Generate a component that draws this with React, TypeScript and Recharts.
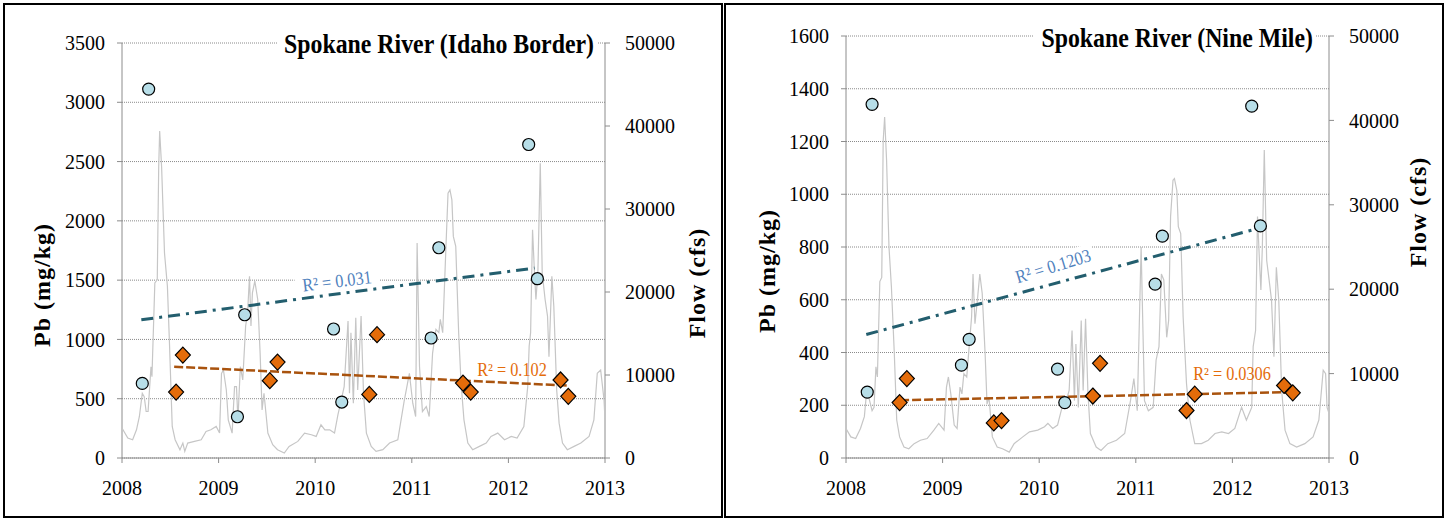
import React from "react";
import { ComposedChart, Scatter, XAxis, YAxis, CartesianGrid } from "recharts";

// ---- data ----
const yearTicks = [2008, 2009, 2010, 2011, 2012, 2013];
const flowTicks = [0, 10000, 20000, 30000, 40000, 50000];
const idahoPbTicks = [0, 500, 1000, 1500, 2000, 2500, 3000, 3500];
const nineMilePbTicks = [0, 200, 400, 600, 800, 1000, 1200, 1400, 1600];

// [decimal year, Pb mg/kg]
const idahoCircles = [
  [2008.21, 629], [2008.276, 3111], [2009.195, 348], [2009.27, 1208], [2010.19, 1088],
  [2010.275, 472], [2011.2, 1012], [2011.28, 1773], [2012.21, 2644], [2012.3, 1512],
];
const idahoDiamonds = [
  [2008.56, 556], [2008.63, 868], [2009.53, 652], [2009.61, 809], [2010.56, 536],
  [2010.64, 1040], [2011.53, 632], [2011.61, 556], [2012.54, 658], [2012.62, 520],
];
const idahoCircleTrend = [[2008.2, 1166], [2012.27, 1602]];
const idahoDiamondTrend = [[2008.54, 770], [2012.63, 610]];

const nineMileCircles = [
  [2008.22, 250], [2008.27, 1341], [2009.195, 352], [2009.275, 450], [2010.19, 337],
  [2010.265, 210], [2011.2, 659], [2011.275, 841], [2012.2, 1334], [2012.29, 880],
];
const nineMileDiamonds = [
  [2008.555, 210], [2008.63, 301], [2009.53, 133], [2009.61, 142], [2010.555, 235],
  [2010.63, 359], [2011.525, 180], [2011.61, 242], [2012.535, 275], [2012.625, 247],
];
const nineMileCircleTrend = [[2008.21, 468], [2012.23, 867]];
const nineMileDiamondTrend = [[2008.56, 219], [2012.64, 250]];

// [decimal year, flow cfs]
const idahoFlow = [
  [2008.0, 3600], [2008.06, 2400], [2008.11, 2200], [2008.15, 3400], [2008.18, 5000],
  [2008.21, 7800], [2008.23, 7400], [2008.25, 5600], [2008.27, 5600], [2008.3, 11000],
  [2008.31, 9800], [2008.34, 21100], [2008.365, 21500], [2008.38, 35100], [2008.39, 39400],
  [2008.41, 35100], [2008.44, 24700], [2008.47, 20700], [2008.49, 14300], [2008.52, 3800],
  [2008.55, 2200], [2008.6, 1000], [2008.63, 1800], [2008.65, 800], [2008.68, 1800],
  [2008.75, 2000], [2008.82, 2200], [2008.87, 3200], [2008.92, 3400], [2008.975, 3800],
  [2009.01, 3000], [2009.03, 10200], [2009.05, 10600], [2009.08, 8200], [2009.1, 4600],
  [2009.14, 3000], [2009.165, 8600], [2009.185, 8600], [2009.2, 4600], [2009.225, 11000],
  [2009.25, 9400], [2009.28, 15900], [2009.3, 17500], [2009.32, 21900], [2009.335, 15900],
  [2009.35, 19900], [2009.375, 21300], [2009.405, 19100], [2009.43, 12600], [2009.45, 5800],
  [2009.47, 7800], [2009.51, 3000], [2009.56, 1600], [2009.61, 1000], [2009.68, 600],
  [2009.73, 1400], [2009.82, 2000], [2009.89, 3000], [2009.96, 2800], [2010.01, 2600],
  [2010.06, 4000], [2010.1, 3400], [2010.15, 3400], [2010.2, 3000], [2010.235, 5200],
  [2010.27, 7000], [2010.3, 8600], [2010.34, 16500], [2010.355, 7800], [2010.37, 15100],
  [2010.395, 6600], [2010.42, 16900], [2010.44, 8200], [2010.475, 17100], [2010.5, 7800],
  [2010.53, 3000], [2010.58, 1400], [2010.63, 800], [2010.7, 1000], [2010.77, 1800],
  [2010.855, 2200], [2010.92, 6800], [2010.975, 10200], [2011.01, 6600], [2011.04, 5000],
  [2011.055, 25900], [2011.08, 11000], [2011.11, 5600], [2011.15, 6200], [2011.18, 5000],
  [2011.215, 12600], [2011.25, 15500], [2011.28, 15100], [2011.295, 16700], [2011.32, 15100],
  [2011.355, 25900], [2011.375, 31900], [2011.395, 32300], [2011.415, 31100], [2011.43, 26700],
  [2011.455, 25500], [2011.485, 15100], [2011.51, 9000], [2011.54, 4600], [2011.58, 1800],
  [2011.63, 1000], [2011.7, 1400], [2011.77, 1800], [2011.82, 2600], [2011.89, 3000],
  [2011.96, 2200], [2012.03, 2600], [2012.09, 2400], [2012.16, 3800], [2012.2, 8600],
  [2012.215, 13500], [2012.23, 15100], [2012.25, 27500], [2012.27, 22300], [2012.285, 19100],
  [2012.305, 22300], [2012.33, 35500], [2012.35, 22300], [2012.38, 19100], [2012.405, 17100],
  [2012.42, 12200], [2012.45, 21900], [2012.47, 18300], [2012.5, 8200], [2012.525, 4200],
  [2012.56, 1800], [2012.61, 1000], [2012.68, 1400], [2012.75, 1800], [2012.835, 2600],
  [2012.885, 4600], [2012.92, 10200], [2012.955, 10600], [2012.99, 7000], [2013.0, 4600],
];
const nineMileFlow = [
  [2008.0, 3500], [2008.05, 2500], [2008.1, 2300], [2008.15, 3500], [2008.19, 4900],
  [2008.21, 7400], [2008.24, 7000], [2008.27, 5600], [2008.29, 6000], [2008.31, 10800],
  [2008.325, 9600], [2008.35, 20900], [2008.37, 21400], [2008.385, 37600], [2008.4, 40400],
  [2008.42, 35300], [2008.445, 25000], [2008.47, 20300], [2008.5, 12400], [2008.525, 4500],
  [2008.555, 2500], [2008.6, 1300], [2008.65, 1100], [2008.705, 1700], [2008.77, 2100],
  [2008.84, 2300], [2008.91, 3300], [2008.96, 4100], [2009.015, 3300], [2009.04, 8400],
  [2009.06, 9600], [2009.085, 7600], [2009.12, 3900], [2009.15, 3500], [2009.18, 8400],
  [2009.2, 7600], [2009.22, 10000], [2009.25, 9600], [2009.275, 13200], [2009.3, 16700],
  [2009.315, 21800], [2009.335, 15900], [2009.36, 18700], [2009.385, 21800], [2009.41, 19500],
  [2009.44, 12400], [2009.46, 6400], [2009.48, 7200], [2009.515, 2500], [2009.565, 1300],
  [2009.62, 1100], [2009.69, 700], [2009.74, 1700], [2009.83, 2500], [2009.9, 3100],
  [2009.985, 3300], [2010.055, 3700], [2010.09, 4100], [2010.14, 3500], [2010.19, 3900],
  [2010.245, 6400], [2010.28, 6800], [2010.31, 8000], [2010.34, 15100], [2010.365, 6800],
  [2010.38, 13500], [2010.405, 6000], [2010.435, 16300], [2010.455, 8000], [2010.48, 16500],
  [2010.505, 7600], [2010.53, 2900], [2010.59, 1300], [2010.64, 900], [2010.71, 1700],
  [2010.8, 2100], [2010.885, 2900], [2010.945, 6800], [2010.98, 9400], [2011.015, 5600],
  [2011.055, 25000], [2011.09, 6800], [2011.13, 5600], [2011.18, 6000], [2011.21, 11600],
  [2011.24, 13200], [2011.265, 21800], [2011.29, 21100], [2011.32, 14300], [2011.34, 16300],
  [2011.36, 28600], [2011.385, 32900], [2011.4, 33100], [2011.425, 31700], [2011.44, 27400],
  [2011.465, 26600], [2011.49, 16700], [2011.525, 8800], [2011.56, 4500], [2011.61, 1700],
  [2011.68, 1700], [2011.75, 2100], [2011.82, 2900], [2011.89, 3100], [2011.96, 2900],
  [2012.025, 3500], [2012.095, 6000], [2012.145, 4500], [2012.2, 6000], [2012.215, 13200],
  [2012.24, 15100], [2012.26, 28600], [2012.28, 23400], [2012.295, 19900], [2012.31, 25000],
  [2012.33, 36500], [2012.355, 23400], [2012.38, 21100], [2012.405, 18700], [2012.43, 12000],
  [2012.455, 22600], [2012.48, 18700], [2012.51, 8000], [2012.545, 3300], [2012.595, 1700],
  [2012.665, 1300], [2012.75, 1700], [2012.835, 2500], [2012.895, 4500], [2012.94, 10400],
  [2012.965, 10000], [2012.98, 6000], [2013.0, 5300],
];

const toPts = (arr: number[][]) => arr.map(([t, v]) => ({ t, v }));

const SERIF = "'Liberation Serif', 'Times New Roman', serif";
const AXIS_GRAY = "#8c8c8c";

const CircleDot = (props: any) => (
  <circle cx={props.cx} cy={props.cy} r={6} fill="#b7dee8" stroke="#000" strokeWidth={1.2} />
);
const DiamondDot = (props: any) => {
  const { cx, cy } = props;
  return (
    <path
      d={`M${cx},${cy - 8}L${cx + 7.5},${cy}L${cx},${cy + 8}L${cx - 7.5},${cy}Z`}
      fill="#e46c0a"
      stroke="#000"
      strokeWidth={1.2}
    />
  );
};
const NoDot = () => <g />;

type PanelProps = {
  left: number;
  title: string;
  pbTicks: number[];
  flow: number[][];
  circles: number[][];
  diamonds: number[][];
  circleTrend: number[][];
  diamondTrend: number[][];
  blueR2: string;
  orangeR2: string;
  margin: { top: number; right: number; bottom: number; left: number };
  layout: {
    titleX: number; titleY: number; titleBox: [number, number, number, number];
    pbLabel: [number, number]; flowLabel: [number, number];
    blue: [number, number, number]; orange: [number, number];
  };
};

function Panel(p: PanelProps) {
  const L = p.layout;
  const tickFont = { fontFamily: SERIF, fontSize: 20, fill: "#000" };
  return (
    <div style={{ position: "absolute", left: p.left, top: 0, width: 722, height: 521 }}>
      <ComposedChart width={722} height={521} margin={p.margin}>
        <CartesianGrid yAxisId="pb" vertical={false} stroke="#8a8a8a" strokeDasharray="1 1" />
        <XAxis
          dataKey="t"
          type="number"
          domain={[2008, 2013]}
          ticks={yearTicks}
          allowDataOverflow
          height={30}
          tickSize={5}
          tickMargin={18}
          stroke={AXIS_GRAY}
          tick={tickFont}
        />
        <YAxis
          yAxisId="pb"
          dataKey="v"
          type="number"
          domain={[0, p.pbTicks[p.pbTicks.length - 1]]}
          ticks={p.pbTicks}
          width={60}
          tickSize={5}
          tickMargin={12}
          stroke={AXIS_GRAY}
          tick={tickFont}
        />
        <YAxis
          yAxisId="flow"
          orientation="right"
          dataKey="v"
          type="number"
          domain={[0, 50000]}
          ticks={flowTicks}
          width={60}
          tickSize={5}
          tickMargin={15}
          stroke={AXIS_GRAY}
          tick={{ ...tickFont, textAnchor: "start" }}
        />
        <Scatter
          yAxisId="flow"
          data={toPts(p.flow)}
          line={{ stroke: "#c6c6c6", strokeWidth: 1.2 }}
          lineType="joint"
          shape={NoDot}
          isAnimationActive={false}
        />
        <Scatter
          yAxisId="pb"
          data={toPts(p.circleTrend)}
          line={{ stroke: "#235e6e", strokeWidth: 3, strokeDasharray: "12 6 3 6" }}
          lineType="joint"
          shape={NoDot}
          isAnimationActive={false}
        />
        <Scatter
          yAxisId="pb"
          data={toPts(p.diamondTrend)}
          line={{ stroke: "#a9530e", strokeWidth: 2.5, strokeDasharray: "9 3" }}
          lineType="joint"
          shape={NoDot}
          isAnimationActive={false}
        />
        <Scatter yAxisId="pb" data={toPts(p.circles)} shape={CircleDot} isAnimationActive={false} />
        <Scatter yAxisId="pb" data={toPts(p.diamonds)} shape={DiamondDot} isAnimationActive={false} />
      </ComposedChart>
      <svg
        width={722}
        height={521}
        style={{ position: "absolute", left: 0, top: 0, pointerEvents: "none" }}
        fontFamily={SERIF}
      >
        <rect x={L.titleBox[0]} y={L.titleBox[1]} width={L.titleBox[2]} height={L.titleBox[3]} fill="#fff" />
        <text
          transform={`translate(${L.titleX} ${L.titleY}) scale(0.9 1)`}
          textAnchor="end"
          fontSize={26.5}
          fontWeight="bold"
          fill="#000"
        >
          {p.title}
        </text>
        <text
          x={L.pbLabel[0]}
          y={L.pbLabel[1]}
          textAnchor="middle"
          dominantBaseline="central"
          fontSize={24}
          fontWeight="bold"
          letterSpacing={1}
          transform={`rotate(-90 ${L.pbLabel[0]} ${L.pbLabel[1]})`}
        >
          Pb (mg/kg)
        </text>
        <text
          x={L.flowLabel[0]}
          y={L.flowLabel[1]}
          textAnchor="middle"
          dominantBaseline="central"
          fontSize={24}
          fontWeight="bold"
          letterSpacing={1}
          transform={`rotate(-90 ${L.flowLabel[0]} ${L.flowLabel[1]})`}
        >
          Flow (cfs)
        </text>
        <g transform={`translate(${L.blue[0]} ${L.blue[1]}) rotate(${L.blue[2]})`}>
          <rect x={-42} y={-11} width={84} height={21} fill="#fff" />
          <text
            transform="scale(0.88 1)"
            textAnchor="middle"
            dominantBaseline="central"
            fontSize={18.5}
            fill="#4f81bd"
          >
            {p.blueR2}
          </text>
        </g>
        <text
          transform={`translate(${L.orange[0]} ${L.orange[1]}) scale(0.88 1)`}
          textAnchor="middle"
          dominantBaseline="central"
          fontSize={18.5}
          fill="#e46c0a"
        >
          {p.orangeR2}
        </text>
      </svg>
    </div>
  );
}

export default function App() {
  return (
    <div style={{ position: "absolute", left: 0, top: 0, width: 1447, height: 521, background: "#fff" }}>
      <div
        style={{
          position: "absolute", left: 3, top: 3, width: 716, height: 511, border: "2px solid #000",
        }}
      />
      <div
        style={{
          position: "absolute", left: 724, top: 3, width: 716, height: 511, border: "2px solid #000",
        }}
      />
      <Panel
        left={0}
        title="Spokane River (Idaho Border)"
        pbTicks={idahoPbTicks}
        flow={idahoFlow}
        circles={idahoCircles}
        diamonds={idahoDiamonds}
        circleTrend={idahoCircleTrend}
        diamondTrend={idahoDiamondTrend}
        blueR2="R² = 0.031"
        orangeR2="R² = 0.102"
        margin={{ top: 43, right: 57, bottom: 33, left: 62 }}
        layout={{
          titleX: 594, titleY: 53, titleBox: [277, 31, 321, 28],
          pbLabel: [42, 285], flowLabel: [697, 283],
          blue: [337, 281, -7], orange: [512, 370],
        }}
      />
      <Panel
        left={722}
        title="Spokane River (Nine Mile)"
        pbTicks={nineMilePbTicks}
        flow={nineMileFlow}
        circles={nineMileCircles}
        diamonds={nineMileDiamonds}
        circleTrend={nineMileCircleTrend}
        diamondTrend={nineMileDiamondTrend}
        blueR2="R² = 0.1203"
        orangeR2="R² = 0.0306"
        margin={{ top: 36, right: 55, bottom: 33, left: 64 }}
        layout={{
          titleX: 591, titleY: 47, titleBox: [311, 25, 283, 28],
          pbLabel: [45, 271], flowLabel: [696, 212],
          blue: [331, 266, -17], orange: [510, 374],
        }}
      />
    </div>
  );
}
